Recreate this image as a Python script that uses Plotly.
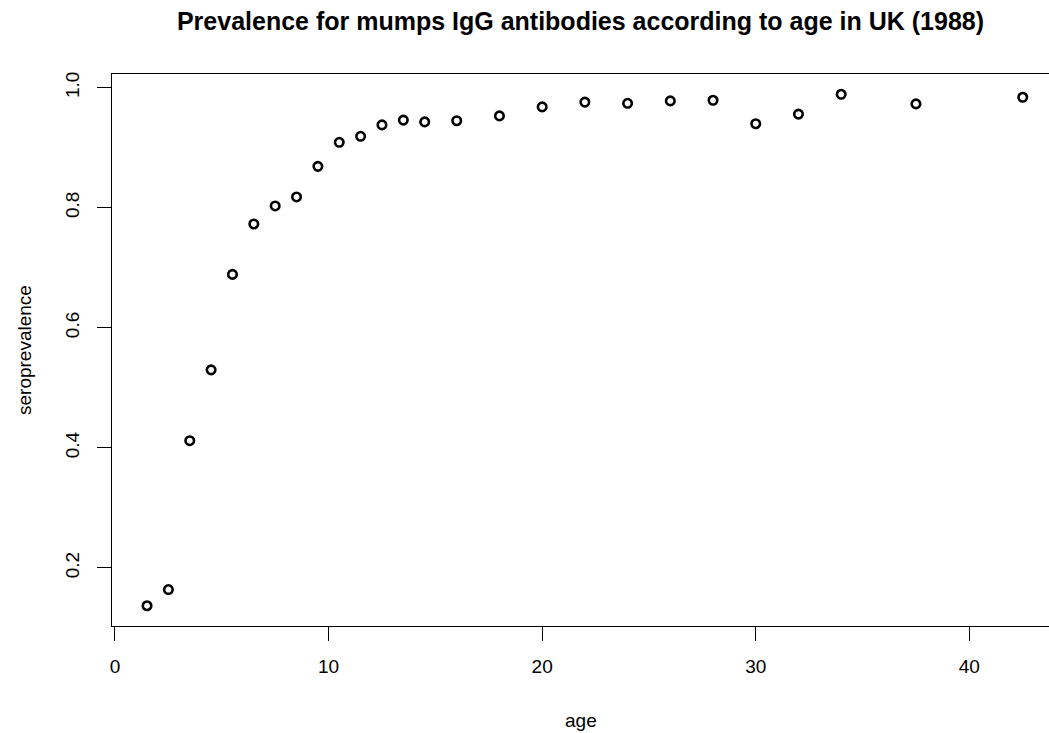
import plotly.graph_objects as go

# Mumps IgG seroprevalence by age, UK 1988
age = [1.5, 2.5, 3.5, 4.5, 5.5, 6.5, 7.5, 8.5, 9.5, 10.5, 11.5, 12.5, 13.5, 14.5,
       16, 18, 20, 22, 24, 26, 28, 30, 32, 34, 37.5, 42.5]
seroprevalence = [0.137, 0.164, 0.412, 0.530, 0.689, 0.773, 0.803, 0.818, 0.869,
                  0.909, 0.919, 0.938, 0.946, 0.943, 0.945, 0.953, 0.968, 0.976,
                  0.974, 0.978, 0.979, 0.940, 0.956, 0.989, 0.973, 0.984]

x_ticks = [0, 10, 20, 30, 40]
y_ticks = [0.2, 0.4, 0.6, 0.8, 1.0]
y_tick_text = ["0.2", "0.4", "0.6", "0.8", "1.0"]

FONT = "Liberation Sans, Arial, sans-serif"

fig = go.Figure(
    go.Scatter(
        x=age,
        y=seroprevalence,
        mode="markers",
        marker=dict(symbol="circle-open", size=8.5, color="black",
                    line=dict(width=2.6, color="black")),
        hoverinfo="x+y",
    )
)

fig.update_layout(
    width=1049,
    height=733,
    margin=dict(l=112, r=0, t=74, b=107),
    paper_bgcolor="white",
    plot_bgcolor="white",
    showlegend=False,
    font=dict(family=FONT, size=19, color="black"),
    title=dict(
        text="<b>Prevalence for mumps IgG antibodies according to age in UK (1988)</b>",
        xref="paper", x=0.5, xanchor="center",
        yref="container", y=1 - 21 / 733, yanchor="middle",
        font=dict(family=FONT, size=25, color="black"),
    ),
    xaxis=dict(
        range=[-0.14, 43.73],
        tickvals=x_ticks,
        ticks="outside", ticklen=14, tickwidth=1, tickcolor="black",
        ticklabelstandoff=9,
        showline=True, linecolor="black", linewidth=1, mirror=True,
        showgrid=False, zeroline=False,
        tickfont=dict(family=FONT, size=19, color="black"),
    ),
    yaxis=dict(
        range=[0.1033, 1.0228],
        tickvals=y_ticks, ticktext=y_tick_text,
        tickangle=-90,
        ticks="outside", ticklen=14, tickwidth=1, tickcolor="black",
        ticklabelstandoff=10,
        showline=True, linecolor="black", linewidth=1, mirror=False,
        showgrid=False, zeroline=False,
        tickfont=dict(family=FONT, size=19, color="black"),
    ),
    annotations=[
        dict(text="age", xref="paper", yref="paper", x=0.5, y=-(720 - 625.7) / 551.7,
             xanchor="center", yanchor="middle", showarrow=False,
             font=dict(family=FONT, size=19, color="black")),
        dict(text="seroprevalence", xref="paper", yref="paper",
             x=(24 - 112) / 937, y=0.5, textangle=-90,
             xanchor="center", yanchor="middle", showarrow=False,
             font=dict(family=FONT, size=19, color="black")),
    ],
)

fig.write_html("out.html")
